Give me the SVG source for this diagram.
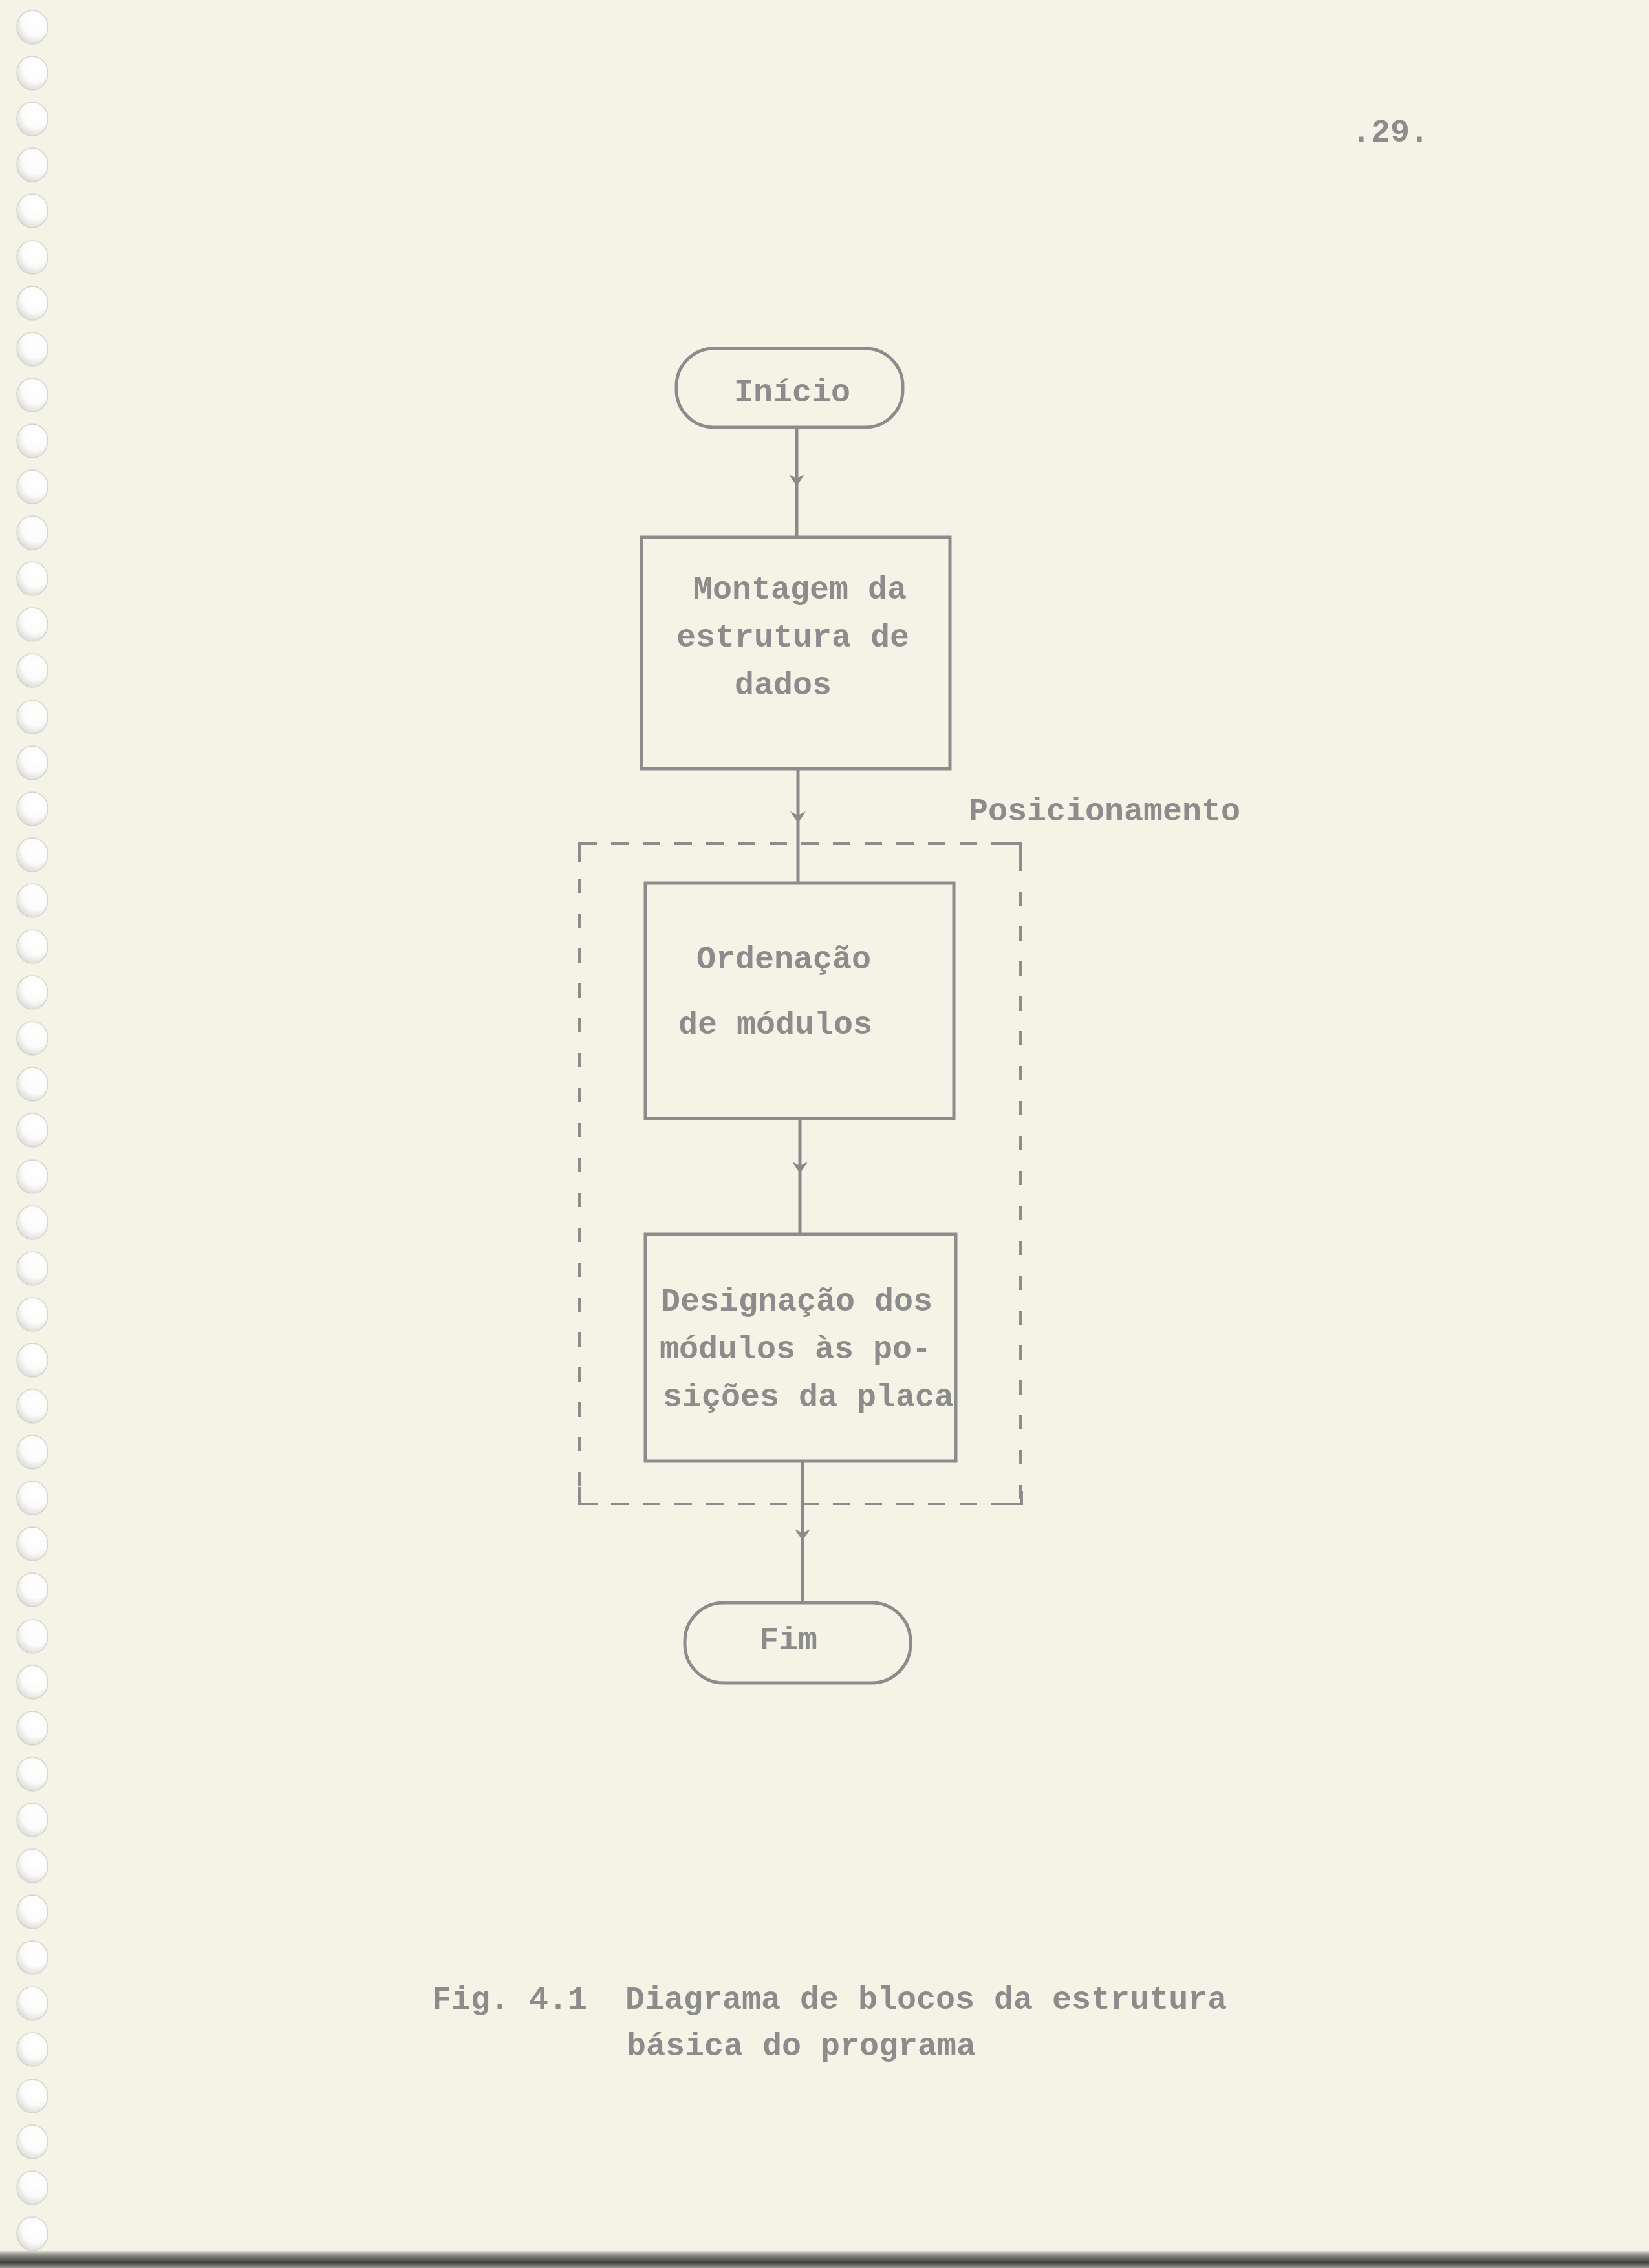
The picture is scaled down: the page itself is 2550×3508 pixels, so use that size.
<svg xmlns="http://www.w3.org/2000/svg" width="2550" height="3508" viewBox="0 0 2550 3508">
<defs>
<style>
.t{font-family:"Liberation Mono","DejaVu Sans Mono",monospace;font-size:50px;font-weight:bold;fill:#8c8c8c}
.box{fill:none;stroke:#8c8c8c;stroke-width:5}
.con{fill:none;stroke:#8a8a8a;stroke-width:5;marker-mid:url(#arr)}
.dh{fill:none;stroke:#8c8c8c;stroke-width:4;stroke-dasharray:27 22}
.dv{fill:none;stroke:#8c8c8c;stroke-width:4;stroke-dasharray:22 32}
.dc{fill:none;stroke:#8c8c8c;stroke-width:4}
.hole{fill:url(#hg);stroke:#d3d3cf;stroke-width:1.5}
</style>
<radialGradient id="hg" cx="0.6" cy="0.35" r="0.7">
<stop offset="0" stop-color="#ffffff"/>
<stop offset="0.6" stop-color="#fbfbfa"/>
<stop offset="1" stop-color="#d9d9d6"/>
</radialGradient>
<linearGradient id="edge" x1="0" y1="0" x2="0" y2="1">
<stop offset="0" stop-color="#f5f2e6"/>
<stop offset="0.3" stop-color="#8a8985"/>
<stop offset="0.7" stop-color="#3e3e3c"/>
<stop offset="1" stop-color="#9a9a98"/>
</linearGradient>
<marker id="arr" markerUnits="userSpaceOnUse" viewBox="-20 -14 22 28" refX="0" refY="0" markerWidth="22" markerHeight="28" orient="auto">
<path d="M-18,-12 L0,0 L-18,12 L-12,0 Z" fill="#8a8a8a"/>
</marker>
</defs>
<rect x="0" y="0" width="2550" height="3508" fill="#f5f2e6"/>
<rect x="0" y="3480" width="2550" height="28" fill="url(#edge)"/>
<g id="binding-holes">
<ellipse class="hole" cx="50" cy="42" rx="24" ry="26"/>
<ellipse class="hole" cx="50" cy="113" rx="24" ry="26"/>
<ellipse class="hole" cx="50" cy="184" rx="24" ry="26"/>
<ellipse class="hole" cx="50" cy="255" rx="24" ry="26"/>
<ellipse class="hole" cx="50" cy="326" rx="24" ry="26"/>
<ellipse class="hole" cx="50" cy="398" rx="24" ry="26"/>
<ellipse class="hole" cx="50" cy="469" rx="24" ry="26"/>
<ellipse class="hole" cx="50" cy="540" rx="24" ry="26"/>
<ellipse class="hole" cx="50" cy="611" rx="24" ry="26"/>
<ellipse class="hole" cx="50" cy="682" rx="24" ry="26"/>
<ellipse class="hole" cx="50" cy="753" rx="24" ry="26"/>
<ellipse class="hole" cx="50" cy="824" rx="24" ry="26"/>
<ellipse class="hole" cx="50" cy="895" rx="24" ry="26"/>
<ellipse class="hole" cx="50" cy="966" rx="24" ry="26"/>
<ellipse class="hole" cx="50" cy="1037" rx="24" ry="26"/>
<ellipse class="hole" cx="50" cy="1109" rx="24" ry="26"/>
<ellipse class="hole" cx="50" cy="1180" rx="24" ry="26"/>
<ellipse class="hole" cx="50" cy="1251" rx="24" ry="26"/>
<ellipse class="hole" cx="50" cy="1322" rx="24" ry="26"/>
<ellipse class="hole" cx="50" cy="1393" rx="24" ry="26"/>
<ellipse class="hole" cx="50" cy="1464" rx="24" ry="26"/>
<ellipse class="hole" cx="50" cy="1535" rx="24" ry="26"/>
<ellipse class="hole" cx="50" cy="1606" rx="24" ry="26"/>
<ellipse class="hole" cx="50" cy="1677" rx="24" ry="26"/>
<ellipse class="hole" cx="50" cy="1748" rx="24" ry="26"/>
<ellipse class="hole" cx="50" cy="1820" rx="24" ry="26"/>
<ellipse class="hole" cx="50" cy="1891" rx="24" ry="26"/>
<ellipse class="hole" cx="50" cy="1962" rx="24" ry="26"/>
<ellipse class="hole" cx="50" cy="2033" rx="24" ry="26"/>
<ellipse class="hole" cx="50" cy="2104" rx="24" ry="26"/>
<ellipse class="hole" cx="50" cy="2175" rx="24" ry="26"/>
<ellipse class="hole" cx="50" cy="2246" rx="24" ry="26"/>
<ellipse class="hole" cx="50" cy="2317" rx="24" ry="26"/>
<ellipse class="hole" cx="50" cy="2388" rx="24" ry="26"/>
<ellipse class="hole" cx="50" cy="2459" rx="24" ry="26"/>
<ellipse class="hole" cx="50" cy="2531" rx="24" ry="26"/>
<ellipse class="hole" cx="50" cy="2602" rx="24" ry="26"/>
<ellipse class="hole" cx="50" cy="2673" rx="24" ry="26"/>
<ellipse class="hole" cx="50" cy="2744" rx="24" ry="26"/>
<ellipse class="hole" cx="50" cy="2815" rx="24" ry="26"/>
<ellipse class="hole" cx="50" cy="2886" rx="24" ry="26"/>
<ellipse class="hole" cx="50" cy="2957" rx="24" ry="26"/>
<ellipse class="hole" cx="50" cy="3028" rx="24" ry="26"/>
<ellipse class="hole" cx="50" cy="3099" rx="24" ry="26"/>
<ellipse class="hole" cx="50" cy="3170" rx="24" ry="26"/>
<ellipse class="hole" cx="50" cy="3242" rx="24" ry="26"/>
<ellipse class="hole" cx="50" cy="3313" rx="24" ry="26"/>
<ellipse class="hole" cx="50" cy="3384" rx="24" ry="26"/>
<ellipse class="hole" cx="50" cy="3455" rx="24" ry="26"/>
</g>
<g id="page-number"><text class="t" x="2090" y="219">.29.</text></g>
<g id="group-posicionamento">
<line class="dh" x1="896" y1="1305" x2="1578" y2="1305"/>
<line class="dv" x1="896" y1="1305" x2="896" y2="2326"/>
<line class="dv" x1="1578" y1="1305" x2="1578" y2="2326" stroke-dashoffset="-20"/>
<line class="dh" x1="896" y1="2326" x2="1580" y2="2326"/>
<path class="dc" d="M896,1334 L896,1305 L922,1305"/>
<path class="dc" d="M1550,1305 L1578,1305 L1578,1342"/>
<path class="dc" d="M896,2300 L896,2326 L924,2326"/>
<path class="dc" d="M1552,2326 L1580,2326 L1580,2306"/>
<text class="t" x="1498" y="1269">Posicionamento</text>
</g>
<g id="connectors">
<path class="con" d="M1232,661 L1232,752 L1232,831"/>
<path class="con" d="M1234,1189 L1234,1273 L1234,1366"/>
<path class="con" d="M1237,1730 L1237,1815 L1237,1909"/>
<path class="con" d="M1241,2260 L1241,2383 L1241,2479"/>
</g>
<g id="inicio">
<rect class="box" x="1046" y="539" width="350" height="122" rx="58" ry="58"/>
<text class="t" x="1135" y="621">Início</text>
</g>
<g id="montagem">
<rect class="box" x="992" y="831" width="477" height="358"/>
<text class="t" x="1072" y="926">Montagem da</text>
<text class="t" x="1046" y="1000">estrutura de</text>
<text class="t" x="1136" y="1074">dados</text>
</g>
<g id="ordenacao">
<rect class="box" x="998" y="1366" width="477" height="364"/>
<text class="t" x="1077" y="1498">Ordenação</text>
<text class="t" x="1049" y="1599">de módulos</text>
</g>
<g id="designacao">
<rect class="box" x="998" y="1909" width="480" height="351"/>
<text class="t" x="1022" y="2027">Designação dos</text>
<text class="t" x="1020" y="2101">módulos às po-</text>
<text class="t" x="1025" y="2175">sições da placa</text>
</g>
<g id="fim">
<rect class="box" x="1059" y="2479" width="349" height="124" rx="60" ry="60"/>
<text class="t" x="1174" y="2551">Fim</text>
</g>
<g id="caption">
<text class="t" x="668" y="3107">Fig. 4.1</text>
<text class="t" x="967" y="3107">Diagrama de blocos da estrutura</text>
<text class="t" x="969" y="3179">básica do programa</text>
</g>
</svg>
